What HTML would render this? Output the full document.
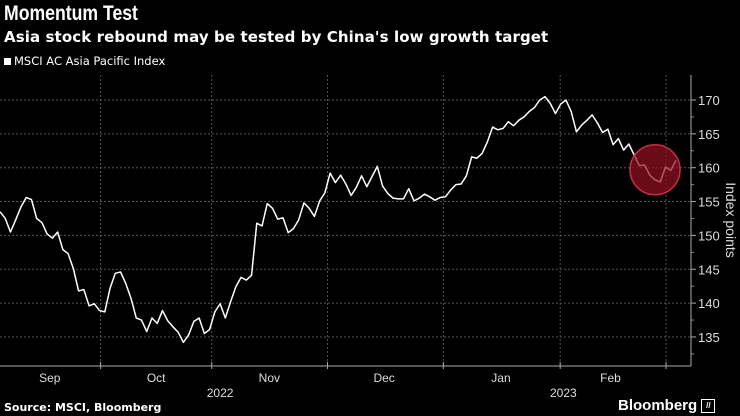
<!DOCTYPE html>
<html><head><meta charset="utf-8"><style>
body{margin:0;background:#000;width:740px;height:416px;overflow:hidden;font-family:"Liberation Sans",sans-serif;color:#fff}
.t{position:absolute;left:4px;white-space:nowrap;font-weight:bold}
</style></head><body>
<div class="t" style="top:2px;font-size:21px;transform:scaleX(0.84);transform-origin:0 0">Momentum Test</div>
<div class="t" style="top:28px;font-size:15px;letter-spacing:0.1px;font-family:'DejaVu Sans',sans-serif">Asia stock rebound may be tested by China's low growth target</div>
<div class="t" style="top:54px;font-size:11.5px;font-weight:normal;font-family:'DejaVu Sans',sans-serif"><span style="display:inline-block;width:7px;height:7px;background:#fff;margin-right:3px"></span>MSCI AC Asia Pacific Index</div>
<div class="t" style="top:401px;font-size:11px;font-family:'DejaVu Sans',sans-serif">Source: MSCI, Bloomberg</div>
<div class="t" style="top:397px;left:618px;font-size:15px">Bloomberg <span style="display:inline-block;width:12px;height:12px;border:1px solid #fff;font-size:8px;text-align:center;line-height:12px;vertical-align:middle">//</span></div>
<svg id="c" width="740" height="416" style="position:absolute;left:0;top:0"></svg>
<script>
const values=[153.5,152.5,150.5,152.3,154.2,155.6,155.3,152.5,151.9,150.2,149.6,150.5,147.9,147.3,145.1,141.8,142.0,139.6,139.9,138.9,138.7,142.2,144.4,144.6,142.9,140.7,137.8,137.5,135.8,137.8,137.0,138.9,137.4,136.5,135.7,134.2,135.3,137.3,137.8,135.5,136.1,138.7,139.9,137.8,140.2,142.4,143.8,143.4,144.1,151.8,151.4,154.7,154.0,152.4,152.6,150.4,151.0,152.3,154.8,154.0,152.8,155.1,156.3,159.2,157.8,158.9,157.6,155.9,157.1,158.8,
157.2,158.7,160.2,157.3,156.2,155.5,155.4,155.4,156.9,155.1,155.5,156.1,155.7,155.2,155.6,155.7,156.7,157.5,157.6,158.8,161.6,161.4,162.1,163.8,166.0,165.6,165.8,166.8,166.2,167.0,167.5,168.3,168.9,170.0,170.5,169.5,168.0,169.4,170.0,168.3,165.3,166.3,167.0,167.8,166.6,165.2,165.7,163.4,164.3,162.6,163.5,161.9,160.3,160.4,158.9,158.2,157.9,160.1,159.6,161.1];
const yTicks=[135,140,145,150,155,160,165,170];
const monthBounds=[19.2,40.4,62.5,84.6,106.9,127.1];
const monthLabels=["Sep","Oct","Nov","Dec","Jan","Feb"];
const monthLabelPos=[9.5,29.8,51.4,73.3,95.6,116.5];
const yearLabels=["2022","2023"];
const yearLabelPos=[42,107.5];
const n=values.length, NS="http://www.w3.org/2000/svg", svg=document.getElementById('c');
const X=i=>i*676/(n-1), Y=v=>100+(170-v)*6.77;
function mk(t,a){const e=document.createElementNS(NS,t);for(const k in a)e.setAttribute(k,a[k]);svg.appendChild(e);return e;}
yTicks.forEach(v=>{
 const g=mk('line',{x1:0,x2:691,y1:Y(v),y2:Y(v),stroke:'#555','stroke-dasharray':'2,2','stroke-width':1});
 
 
 const tk=mk('line',{x1:691,x2:696,y1:Y(v),y2:Y(v),stroke:'#aaa'});
 
 
 const t=mk('text',{x:698,y:Y(v)+5,fill:'#ddd','font-size':13,'font-family':'Liberation Sans'});t.textContent=v;
 
 
});
for(let v=132.5;v<172;v+=5){const m=mk('line',{x1:691,x2:694,y1:Y(v),y2:Y(v),stroke:'#888'});}
monthBounds.forEach(b=>{
 const g=mk('line',{x1:X(b),x2:X(b),y1:75,y2:366,stroke:'#555','stroke-dasharray':'2,2'});
 
 
 const tk=mk('line',{x1:X(b),x2:X(b),y1:362,y2:369,stroke:'#aaa'});
 
 
});
const ax=mk('line',{x1:0,x2:691,y1:366,y2:366,stroke:'#aaa'});
const ay=mk('line',{x1:691,x2:691,y1:75,y2:366,stroke:'#aaa'});
monthLabels.forEach((m,i)=>{const t=mk('text',{x:X(monthLabelPos[i]),y:382,fill:'#ddd','font-size':12,'text-anchor':'middle','font-family':'Liberation Sans'});t.textContent=m;});
yearLabels.forEach((m,i)=>{const t=mk('text',{x:X(yearLabelPos[i]),y:397,fill:'#ddd','font-size':12,'text-anchor':'middle','font-family':'Liberation Sans'});t.textContent=m;});
const yt=mk('text',{x:0,y:0,fill:'#ddd','font-size':14,'text-anchor':'middle','font-family':'Liberation Sans',transform:'translate(726,220) rotate(90)'});yt.textContent='Index points';


const line=mk('polyline',{points:values.map((v,i)=>X(i)+','+Y(v)).join(' '),fill:'none',stroke:'#fff','stroke-width':1.5,'stroke-linejoin':'round'});


const c=mk('circle',{cx:X(n-5),cy:Y(159.7),r:25,fill:'rgba(150,15,35,0.7)',stroke:'#c23040','stroke-width':1.5});


</script>
</body></html>
